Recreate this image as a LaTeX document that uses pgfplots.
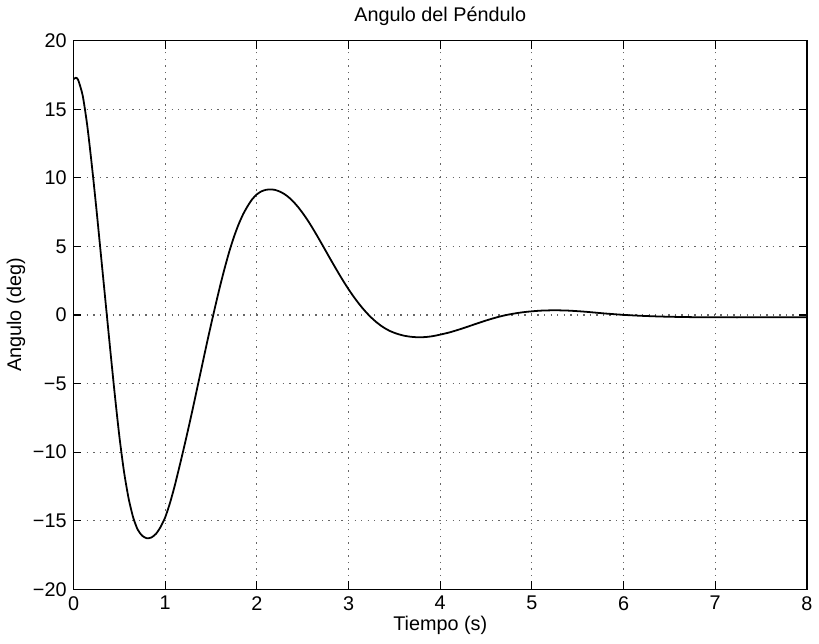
\documentclass[border=0pt]{standalone}
\usepackage{fontspec}
\setmainfont{Liberation Sans}
\usepackage{pgfplots}
\pgfplotsset{compat=1.18}
\begin{document}
\begin{tikzpicture}
\begin{axis}[
  scale only axis,
  width=369bp, height=276bp,
  xmin=0, xmax=8, ymin=-20, ymax=20,
  xtick={0,1,...,8}, ytick={-20,-15,...,20},
  yticklabels={−20,−15,−10,−5,0,5,10,15,20},
  tick align=inside,
  tick pos=both,
  major tick length=4bp,
  grid=major,
  major grid style={dash pattern=on 0.7pt off 2.6pt, black!60, line width=0.6pt},
  axis line style={black, line width=0.7pt},
  tick style={black, line width=0.6pt},
  /pgf/number format/assume math mode=true,
  tick label style={font=\fontsize{10}{12}\selectfont},
  label style={font=\fontsize{10}{12}\selectfont},
  title style={font=\fontsize{10}{12}\selectfont, yshift=-2bp},
  title={Angulo del Péndulo},
  xlabel={Tiempo (s)},
  ylabel={Angulo (deg)},
  xlabel style={yshift=4bp},
  ylabel style={yshift=-3bp},
]
\addplot[black, line width=0.9pt, smooth, tension=0.4] coordinates {
(0,17.2) (0.025,17.3) (0.05,17.15) (0.1,16.0) (0.15,13.8) (0.2,10.9)
(0.25,7.7) (0.3,4.3) (0.35,0.9) (0.4,-2.5) (0.45,-5.8) (0.5,-8.85)
(0.55,-11.4) (0.6,-13.35) (0.65,-14.75) (0.7,-15.65) (0.75,-16.1)
(0.8,-16.28) (0.85,-16.22) (0.9,-15.95) (0.95,-15.45) (1.0,-14.75)
(1.05,-13.75) (1.1,-12.55) (1.15,-11.2) (1.2,-9.8) (1.25,-8.35)
(1.3,-6.85) (1.35,-5.3) (1.4,-3.75) (1.45,-2.2) (1.5,-0.7) (1.55,0.75)
(1.6,2.15) (1.65,3.45) (1.7,4.65) (1.75,5.7) (1.8,6.6) (1.85,7.35)
(1.9,7.95) (1.95,8.45) (2.0,8.8) (2.05,9.02) (2.1,9.13) (2.15,9.16)
(2.2,9.12) (2.25,9.0) (2.3,8.82) (2.35,8.57) (2.4,8.25) (2.45,7.87)
(2.5,7.43) (2.55,6.95) (2.6,6.42) (2.65,5.86) (2.7,5.28) (2.75,4.69)
(2.8,4.1) (2.85,3.52) (2.9,2.95) (2.95,2.4) (3.0,1.88) (3.05,1.39)
(3.1,0.94) (3.15,0.52) (3.2,0.14) (3.25,-0.2) (3.3,-0.5) (3.35,-0.76)
(3.4,-0.98) (3.45,-1.16) (3.5,-1.3) (3.55,-1.41) (3.6,-1.5) (3.65,-1.56)
(3.7,-1.6) (3.75,-1.62) (3.8,-1.62) (3.85,-1.6) (3.9,-1.56) (3.95,-1.5)
(4.0,-1.43) (4.1,-1.27) (4.2,-1.07) (4.3,-0.85) (4.4,-0.62) (4.5,-0.4)
(4.6,-0.2) (4.7,-0.03) (4.8,0.1) (4.9,0.2) (5.0,0.27) (5.1,0.32)
(5.2,0.34) (5.3,0.34) (5.4,0.32) (5.5,0.28) (5.6,0.23) (5.7,0.17)
(5.8,0.11) (5.9,0.06) (6.0,0.01) (6.2,-0.06) (6.4,-0.11) (6.6,-0.14)
(6.8,-0.16) (7.0,-0.17) (7.5,-0.17) (8.0,-0.16)
};
\end{axis}
\path (current axis.south west) ++(-37bp,-27.5bp) coordinate (bl);
\path (current axis.north east) ++(3.5bp,20.5bp) coordinate (tr);
\path (bl) rectangle (tr);
\end{tikzpicture}
\end{document}
